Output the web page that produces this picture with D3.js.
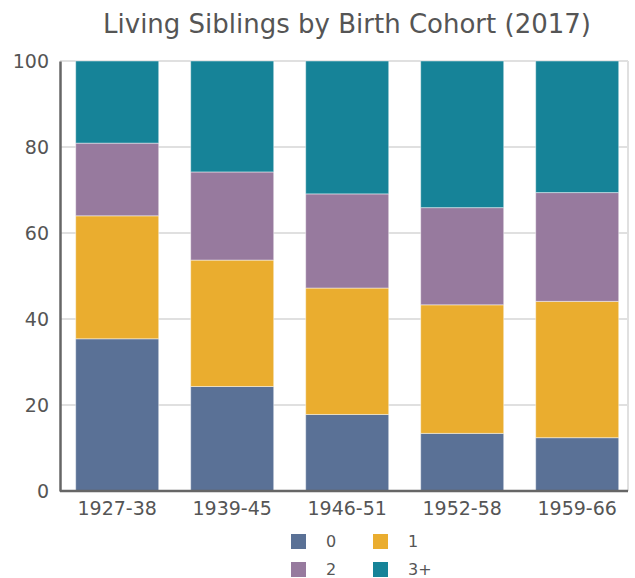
<!DOCTYPE html>
<html><head><meta charset="utf-8">
<script src="https://cdn.jsdelivr.net/npm/d3@7"></script>
<style>body{margin:0;background:#fff}svg{display:block}text{font-family:"DejaVu Sans",Verdana,sans-serif;fill:#555}</style>
</head><body><svg id="c" width="635" height="578"></svg>
<script>
const categories = ["1927-38","1939-45","1946-51","1952-58","1959-66"];
const seriesNames = ["0","1","2","3+"];
const s0 = [35.4,24.3,17.8,13.4,12.4];
const s1 = [28.6,29.4,29.4,29.9,31.7];
const s2 = [16.9,20.5,21.9,22.6,25.3];
const s3 = [19.1,25.8,30.9,34.1,30.6];
const yTicks = [0,20,40,60,80,100];
const colors = ["#5a7196","#eaad2f","#977a9e","#168398"];

const svg = d3.select("#c");
const m = {l:60, r:628, t:61, b:491};
const x = d3.scaleBand().domain(categories).range([59.7, 634.7]).paddingInner(0.278).paddingOuter(0.139);
const y = d3.scaleLinear().domain([0,100]).range([m.b, m.t]);

// grid
svg.append("g").selectAll("line").data(yTicks.filter(d=>d>0)).join("line")
  .attr("x1",m.l).attr("x2",m.r).attr("y1",d=>y(d)).attr("y2",d=>y(d))
  .attr("stroke","#e0e0e0").attr("stroke-width",2);
svg.append("line").attr("x1",m.r).attr("x2",m.r).attr("y1",m.t).attr("y2",m.b)
  .attr("stroke","#e0e0e0").attr("stroke-width",2);

const table = categories.map((c,i)=>({cat:c,"0":s0[i],"1":s1[i],"2":s2[i],"3+":s3[i]}));
const stack = d3.stack().keys(seriesNames)(table);
svg.append("g").selectAll("g").data(stack).join("g").attr("fill",(d,i)=>colors[i])
  .selectAll("rect").data(d=>d).join("rect")
  .attr("x",d=>x(d.data.cat)).attr("width",x.bandwidth())
  .attr("y",d=>y(d[1])).attr("height",d=>y(d[0])-y(d[1]))
  .attr("stroke","rgba(255,255,255,0.45)").attr("stroke-width",1);

// axes
const ya = svg.append("g").attr("transform",`translate(${m.l},0)`)
  .call(d3.axisLeft(y).tickValues(yTicks).tickSize(0).tickPadding(11));
ya.select(".domain").attr("stroke","#666").attr("stroke-width",2.5);
ya.selectAll("text").attr("font-size",19).attr("fill","#555").attr("font-family","DejaVu Sans");
const xa = svg.append("g").attr("transform",`translate(0,${m.b})`)
  .call(d3.axisBottom(x).tickSize(0).tickPadding(11));
xa.select(".domain").attr("d",`M${m.l},0H${m.r}`).attr("stroke","#666").attr("stroke-width",2.5);
xa.selectAll("text").attr("font-size",19).attr("fill","#555").attr("font-family","DejaVu Sans");

// title
svg.append("text").attr("x",347).attr("y",33).attr("text-anchor","middle")
  .attr("font-size",26).text("Living Siblings by Birth Cohort (2017)");

// legend
const lg = svg.append("g");
seriesNames.forEach((n,i)=>{
  const col = i%2, row = Math.floor(i/2);
  const gx = 291 + col*82, gy = 534 + row*28;
  lg.append("rect").attr("x",gx).attr("y",gy).attr("width",15).attr("height",15).attr("fill",colors[i]);
  lg.append("text").attr("x",gx+35).attr("y",gy+13).attr("font-size",16).text(n);
});
</script></body></html>
